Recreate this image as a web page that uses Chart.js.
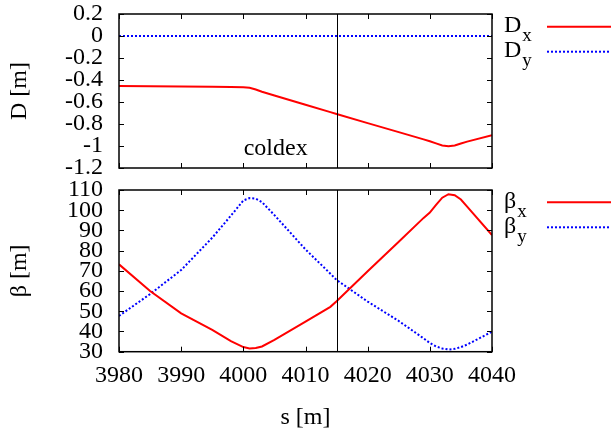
<!DOCTYPE html>
<html>
<head>
<meta charset="utf-8">
<script src="https://cdn.jsdelivr.net/npm/chart.js@4.4.1/dist/chart.umd.min.js"></script>
<style>
  html, body { margin: 0; padding: 0; background: #fff; }
  #wrap { position: relative; width: 611px; height: 430px; overflow: hidden; }
  #topBox { position: absolute; left: 0; top: 0; width: 611px; height: 190px; }
  #botBox { position: absolute; left: 0; top: 170px; width: 611px; height: 260px; }
</style>
</head>
<body>
<div id="wrap">
  <div id="topBox"><canvas id="dispChart"></canvas></div>
  <div id="botBox"><canvas id="betaChart"></canvas></div>
</div>
<script>
// lattice position s [m]
const S_POS = [3980, 3985, 3990, 3995, 3998, 4000, 4001, 4002, 4003, 4005, 4010, 4014,
               4015, 4020, 4025, 4029, 4030, 4031, 4032, 4033, 4034, 4035, 4036, 4040];
// dispersion [m]
const DX = [-0.455, -0.457, -0.459, -0.461, -0.463, -0.466, -0.471, -0.486, -0.507, -0.541, -0.625, -0.692,
            -0.709, -0.792, -0.874, -0.940, -0.957, -0.976, -0.995, -1.003, -0.995, -0.977, -0.960, -0.903];
const DY = [0, 0, 0, 0, 0, 0, 0, 0, 0, 0, 0, 0,
            0, 0, 0, 0, 0, 0, 0, 0, 0, 0, 0, 0];
// beta functions [m]
const BETA_X = [73.2, 60.0, 49.0, 40.8, 35.2, 32.3, 31.6, 31.8, 32.6, 35.8, 44.9, 52.2,
                55.0, 69.8, 84.4, 96.2, 98.8, 102.6, 106.2, 107.9, 107.4, 105.3, 101.8, 87.7];
const BETA_Y = [47.7, 58.5, 70.4, 86.4, 97.3, 104.8, 106.0, 105.7, 104.0, 97.6, 80.6, 68.6,
                65.5, 54.8, 45.2, 36.6, 34.3, 32.6, 31.6, 31.1, 31.4, 32.3, 33.5, 39.9];

const S_TICKS = [3980, 3990, 4000, 4010, 4020, 4030, 4040];
const D_TICKS = [0.2, 0, -0.2, -0.4, -0.6, -0.8, -1, -1.2];
const BETA_TICKS = [110, 100, 90, 80, 70, 60, 50, 40, 30];

const MARKER_S = 4015;          // vertical marker line
const COLDEX_S = 4005.2;        // label position (s, D)
const COLDEX_D = -1.082;

const RED = '#ff0000';
const BLUE = '#0000ff';
const FONT = '"Liberation Serif", "DejaVu Serif", serif';
const TICK_LEN = 5;

Chart.defaults.font.family = FONT;
Chart.defaults.color = '#000';

const toPts = ys => S_POS.map((s, i) => ({ x: s, y: ys[i] }));
const setTicks = list => axis => { axis.ticks = list.map(v => ({ value: v })); };
// fixed box sizes, and no extra inset for overhanging tick labels
const fixWidth = w => s => { s.width = w; s.paddingTop = 0; s.paddingBottom = 0; };
const fixHeight = h => s => { s.height = h; s.paddingLeft = 0; s.paddingRight = 0; };

function drawFrame(chart, yTicks) {
  const { ctx, chartArea: a, scales: { x, y } } = chart;
  ctx.save();
  ctx.strokeStyle = '#000';
  ctx.lineWidth = 1;
  ctx.beginPath();
  S_TICKS.forEach(v => {
    const px = Math.round(x.getPixelForValue(v)) + 0.5;
    ctx.moveTo(px, a.bottom); ctx.lineTo(px, a.bottom - TICK_LEN);
    ctx.moveTo(px, a.top); ctx.lineTo(px, a.top + TICK_LEN);
  });
  yTicks.forEach(v => {
    const py = Math.round(y.getPixelForValue(v)) + 0.5;
    ctx.moveTo(a.left, py); ctx.lineTo(a.left + TICK_LEN, py);
    ctx.moveTo(a.right, py); ctx.lineTo(a.right - TICK_LEN, py);
  });
  // marker line
  const mx = Math.round(x.getPixelForValue(MARKER_S)) + 0.5;
  ctx.moveTo(mx, a.top); ctx.lineTo(mx, a.bottom);
  ctx.stroke();
  ctx.lineWidth = 1.5;
  ctx.strokeRect(a.left, a.top, a.width, a.height);
  ctx.restore();
}

function drawKey(chart, entries) {
  const { ctx } = chart;
  ctx.save();
  entries.forEach(e => {
    ctx.fillStyle = '#000';
    ctx.textAlign = 'left';
    ctx.textBaseline = 'alphabetic';
    ctx.font = '24px ' + FONT;
    ctx.fillText(e.main, 504, e.base);
    const w = ctx.measureText(e.main).width;
    ctx.font = '19px ' + FONT;
    ctx.fillText(e.sub, 504 + w + 1, e.base + 8.4);
    ctx.strokeStyle = e.color;
    ctx.lineWidth = 2;
    ctx.setLineDash(e.dash);
    ctx.beginPath();
    ctx.moveTo(547, e.line);
    ctx.lineTo(611, e.line);
    ctx.stroke();
    ctx.setLineDash([]);
  });
  ctx.restore();
}

function lineSet(label, ys, color, dash) {
  return {
    label, data: toPts(ys), borderColor: color, borderWidth: 2,
    borderDash: dash, pointRadius: 0, tension: 0, fill: false
  };
}

const yTitle = text => ({ display: true, text, font: { size: 24, lineHeight: 1 }, padding: { top: 8, bottom: 0 } });
const tickFont = { size: 24, lineHeight: 1 };

new Chart(document.getElementById('dispChart'), {
  type: 'line',
  data: { datasets: [lineSet('Dx', DX, RED, []), lineSet('Dy', DY, BLUE, [2, 2])] },
  options: {
    responsive: true, maintainAspectRatio: false, animation: false,
    layout: { padding: { left: 0, right: 119, top: 14, bottom: 22 } },
    scales: {
      x: { type: 'linear', min: 3980, max: 4040, display: false },
      y: {
        min: -1.2, max: 0.2,
        afterBuildTicks: setTicks(D_TICKS),
        afterFit: fixWidth(119),
        grid: { display: false, drawTicks: false }, border: { display: false },
        ticks: { font: tickFont, padding: 16, autoSkip: false, callback: v => String(Math.round(v * 10) / 10) },
        title: yTitle('D [m]')
      }
    },
    plugins: { legend: { display: false }, tooltip: { enabled: false } }
  },
  plugins: [{
    id: 'dispDecor',
    afterDraw(chart) {
      drawFrame(chart, D_TICKS);
      const { ctx, scales: { x, y } } = chart;
      ctx.save();
      ctx.fillStyle = '#000';
      ctx.font = '24px ' + FONT;
      ctx.textAlign = 'center';
      ctx.textBaseline = 'alphabetic';
      ctx.fillText('coldex', x.getPixelForValue(COLDEX_S), y.getPixelForValue(COLDEX_D));
      ctx.restore();
      drawKey(chart, [
        { main: 'D', sub: 'x', color: RED, dash: [], base: 32.3, line: 26.7 },
        { main: 'D', sub: 'y', color: BLUE, dash: [2, 2], base: 57.3, line: 51.7 }
      ]);
    }
  }]
});

new Chart(document.getElementById('betaChart'), {
  type: 'line',
  data: { datasets: [lineSet('betax', BETA_X, RED, []), lineSet('betay', BETA_Y, BLUE, [2, 2])] },
  options: {
    responsive: true, maintainAspectRatio: false, animation: false,
    layout: { padding: { left: 0, right: 119, top: 20, bottom: 0 } },
    scales: {
      x: {
        type: 'linear', min: 3980, max: 4040,
        afterBuildTicks: setTicks(S_TICKS),
        afterFit: fixHeight(78.3),
        grid: { display: false, drawTicks: false }, border: { display: false },
        ticks: { font: tickFont, padding: 12, maxRotation: 0, autoSkip: false, callback: v => String(v) },
        title: { display: true, text: 's [m]', font: { size: 24, lineHeight: 1 }, padding: { top: 0, bottom: 0 } }
      },
      y: {
        min: 30, max: 110,
        afterBuildTicks: setTicks(BETA_TICKS),
        afterFit: fixWidth(119),
        grid: { display: false, drawTicks: false }, border: { display: false },
        ticks: { font: tickFont, padding: 16, autoSkip: false, callback: v => String(v) },
        title: yTitle('β [m]')
      }
    },
    plugins: { legend: { display: false }, tooltip: { enabled: false } }
  },
  plugins: [{
    id: 'betaDecor',
    afterDraw(chart) {
      drawFrame(chart, BETA_TICKS);
      drawKey(chart, [
        { main: 'β', sub: 'x', color: RED, dash: [], base: 38.3, line: 32.3 },
        { main: 'β', sub: 'y', color: BLUE, dash: [2, 2], base: 63.3, line: 57.3 }
      ]);
    }
  }]
});
</script>
</body>
</html>
